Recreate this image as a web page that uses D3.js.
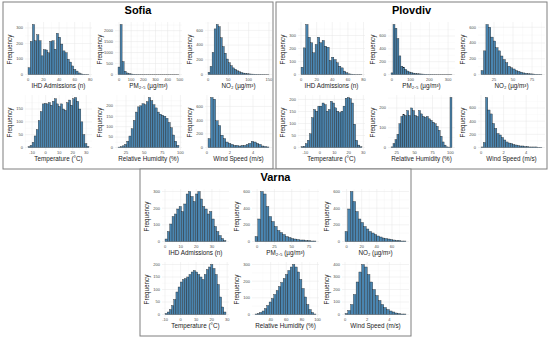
<!DOCTYPE html>
<html>
<head>
<meta charset="utf-8">
<script src="https://d3js.org/d3.v7.min.js"></script>
<style>
body { margin: 0; background: #fff; font-family: "Liberation Sans", Arial, sans-serif; }
.panel { fill: #fff; stroke: #7f7f7f; stroke-width: 1; }
.grid-major { stroke: #e6e6e6; stroke-width: 0.5; }
.grid-minor { stroke: #f2f2f2; stroke-width: 0.35; }
rect.bar { fill: #4a85b0; stroke: #1c1c1c; stroke-width: 0.35; }
.tick-label { fill: #4d4d4d; font-size: 4px; }
.axis-title { fill: #1a1a1a; font-size: 6.3px; }
.city { fill: #000; font-size: 11px; font-weight: bold; }
</style>
</head>
<body>
<div id="chart"></div>
<script>
// x axis titles, same order in every city panel
var variables = ["IHD Admissions (n)", "PM\u2082.\u2085 (\u00b5g/m\u00b3)", "NO\u2082 (\u00b5g/m\u00b3)",
                 "Temperature (\u00b0C)", "Relative Humidity (%)", "Wind Speed (m/s)"];

// ---- Sofia ----
var sofiaIhd  = [43, 213, 322, 217, 256, 217, 120, 160, 158, 140, 213, 217, 163, 265, 240, 196, 152, 140, 98, 80, 55, 33, 22, 10, 4, 2, 1, 1];
var sofiaPm25 = [340, 2280, 590, 150, 70, 40, 25, 15, 10, 8, 6, 5, 4, 3, 3, 2, 2, 2, 1, 1, 1, 1, 1, 1, 1, 1, 1, 1, 1, 1];
var sofiaNo2  = [30, 110, 300, 620, 680, 650, 500, 380, 290, 210, 160, 120, 90, 70, 50, 38, 28, 20, 15, 11, 8, 6, 5, 4, 3, 3, 2, 2, 1, 1];
var sofiaTemp = [3, 8, 20, 45, 70, 105, 140, 170, 172, 170, 175, 165, 180, 190, 170, 160, 170, 150, 145, 175, 185, 165, 190, 195, 180, 150, 100, 50, 15, 4];
var sofiaRh   = [2, 4, 8, 15, 30, 55, 90, 130, 170, 195, 200, 210, 205, 220, 240, 225, 205, 190, 170, 160, 155, 150, 140, 120, 95, 60, 30, 10];
var sofiaWind = [130, 730, 705, 390, 320, 180, 130, 80, 60, 45, 30, 30, 22, 30, 30, 45, 60, 90, 80, 60, 45, 22, 15, 8];
// bin start / bin width for the six variables
var sofiaBinStart = [0, -8, 0, -13, 14, 0.1];
var sofiaBinWidth = [2.8, 16.7, 5, 1.5, 3, 0.22];
var sofiaXTicks = [[0, 20, 40, 60, 80], [0, 100, 200, 300, 400, 500], [0, 50, 100, 150], [-10, 0, 10, 20, 30], [25, 50, 75, 100], [0, 2, 4, 6]];
var sofiaYTicks = [[0, 100, 200, 300], [0, 500, 1000, 1500, 2000], [0, 200, 400, 600], [0, 50, 100, 150], [0, 50, 100, 150, 200], [0, 200, 400, 600]];

// ---- Plovdiv ----
var plovdivIhd  = [56, 205, 385, 287, 244, 167, 231, 287, 244, 262, 218, 210, 108, 133, 115, 90, 64, 51, 26, 13, 5, 3, 2, 1, 1, 1];
var plovdivPm25 = [25, 780, 720, 560, 290, 130, 115, 80, 55, 40, 30, 22, 16, 12, 10, 8, 6, 5, 4, 3, 3, 2, 2, 1, 1, 1, 1, 1, 1, 1, 1];
var plovdivNo2  = [50, 300, 635, 600, 475, 425, 340, 300, 235, 190, 150, 105, 85, 70, 50, 40, 30, 20, 15, 10, 8, 6, 4, 3, 2];
var plovdivTemp = [3, 5, 16, 30, 57, 124, 158, 151, 172, 172, 185, 178, 151, 158, 192, 185, 165, 151, 145, 151, 172, 205, 208, 203, 185, 97, 30, 10, 3];
var plovdivRh   = [3, 20, 40, 67, 120, 157, 167, 162, 187, 162, 200, 187, 162, 157, 187, 170, 157, 153, 157, 145, 137, 128, 120, 107, 87, 57, 28, 12, 3, 2, 253];
var plovdivWind = [8, 76, 760, 570, 510, 365, 290, 213, 190, 152, 114, 84, 68, 61, 46, 38, 30, 23, 23, 15, 15, 8, 8, 8, 8, 4, 4];
var plovdivBinStart = [0, -5, 8, -13, 17, 0];
var plovdivBinWidth = [3, 10.5, 3.2, 1.45, 2.75, 0.2];
var plovdivXTicks = [[0, 20, 40, 60, 80], [0, 100, 200, 300], [0, 25, 50, 75], [-10, 0, 10, 20, 30], [25, 50, 75, 100], [0, 2, 4]];
var plovdivYTicks = [[0, 100, 200, 300], [0, 200, 400, 600], [0, 200, 400, 600], [0, 50, 100, 150, 200], [0, 100, 200], [0, 200, 400, 600]];

// ---- Varna ----
var varnaIhd  = [15, 60, 105, 150, 165, 195, 210, 180, 225, 285, 300, 270, 240, 285, 300, 255, 210, 195, 165, 180, 135, 90, 60, 36, 18, 6];
var varnaPm25 = [60, 270, 600, 570, 420, 300, 240, 180, 132, 108, 84, 60, 48, 36, 30, 24, 18, 18, 12, 12, 6, 6];
var varnaNo2  = [120, 390, 600, 480, 360, 270, 228, 180, 150, 120, 102, 84, 66, 54, 42, 36, 30, 24, 18, 12, 12, 6, 6];
var varnaTemp = [4, 10, 20, 36, 60, 90, 110, 130, 140, 144, 150, 160, 170, 176, 170, 160, 150, 140, 160, 180, 190, 200, 184, 160, 120, 70, 30, 10];
var varnaRh   = [3, 6, 12, 21, 36, 54, 75, 96, 120, 144, 168, 192, 216, 240, 264, 285, 300, 285, 255, 210, 156, 105, 60, 30, 12, 3];
var varnaWind = [8, 32, 80, 160, 260, 340, 400, 380, 320, 260, 200, 152, 112, 80, 56, 40, 28, 20, 12, 8, 4, 4];
var varnaBinStart = [0, -3, -2, -10, 20, 0];
var varnaBinWidth = [1.5, 4, 3.5, 1.4, 3, 0.25];
var varnaXTicks = [[0, 10, 20, 30], [0, 25, 50, 75], [0, 20, 40, 60], [-10, 0, 10, 20, 30], [40, 60, 80, 100], [0, 2, 4]];
var varnaYTicks = [[0, 100, 200, 300], [0, 200, 400, 600], [0, 200, 400, 600], [0, 50, 100, 150, 200], [0, 100, 200, 300], [0, 100, 200, 300, 400]];

function buildCity(counts, starts, widths, xTicks, yTicks) {
  return counts.map(function (c, i) {
    return { counts: c, start: starts[i], width: widths[i], xTicks: xTicks[i], yTicks: yTicks[i], label: variables[i] };
  });
}

var cities = [
  { name: "Sofia", x: 3, y: 2, w: 270, h: 167,
    hists: buildCity([sofiaIhd, sofiaPm25, sofiaNo2, sofiaTemp, sofiaRh, sofiaWind], sofiaBinStart, sofiaBinWidth, sofiaXTicks, sofiaYTicks) },
  { name: "Plovdiv", x: 276, y: 2, w: 271, h: 167,
    hists: buildCity([plovdivIhd, plovdivPm25, plovdivNo2, plovdivTemp, plovdivRh, plovdivWind], plovdivBinStart, plovdivBinWidth, plovdivXTicks, plovdivYTicks) },
  { name: "Varna", x: 140, y: 169, w: 271, h: 167,
    hists: buildCity([varnaIhd, varnaPm25, varnaNo2, varnaTemp, varnaRh, varnaWind], varnaBinStart, varnaBinWidth, varnaXTicks, varnaYTicks) }
];

var svg = d3.select("#chart").append("svg").attr("width", 550).attr("height", 337);

var plotW = 67, plotH = 55;

function drawHist(g, h, cx, cy) {
  var left = cx + 22, top = cy;
  var n = h.counts.length;
  var x0 = h.start, x1 = h.start + n * h.width;
  var pad = (x1 - x0) * 0.05;
  var xScale = d3.scaleLinear().domain([x0 - pad, x1 + pad]).range([left, left + plotW]);
  var yMax = d3.max(h.counts);
  var yScale = d3.scaleLinear().domain([-0.05 * yMax, 1.05 * yMax]).range([top + plotH, top]);

  var xd = xScale.domain(), yd = yScale.domain();
  var inX = function (v) { return v >= xd[0] && v <= xd[1]; };
  var inY = function (v) { return v >= yd[0] && v <= yd[1]; };

  // minor grid halfway between major ticks
  var xStep = h.xTicks[1] - h.xTicks[0], yStep = h.yTicks[1] - h.yTicks[0];
  var xMinor = d3.range(h.xTicks[0] - xStep / 2, xd[1], xStep).filter(inX);
  var yMinor = d3.range(h.yTicks[0] + yStep / 2, yd[1], yStep).filter(inY);
  var xMajor = h.xTicks.filter(inX), yMajor = h.yTicks.filter(inY);

  g.selectAll(null).data(xMinor).enter().append("line").attr("class", "grid-minor")
    .attr("x1", xScale).attr("x2", xScale).attr("y1", top).attr("y2", top + plotH);
  g.selectAll(null).data(yMinor).enter().append("line").attr("class", "grid-minor")
    .attr("x1", left).attr("x2", left + plotW).attr("y1", yScale).attr("y2", yScale);
  g.selectAll(null).data(xMajor).enter().append("line").attr("class", "grid-major")
    .attr("x1", xScale).attr("x2", xScale).attr("y1", top).attr("y2", top + plotH);
  g.selectAll(null).data(yMajor).enter().append("line").attr("class", "grid-major")
    .attr("x1", left).attr("x2", left + plotW).attr("y1", yScale).attr("y2", yScale);

  // bars
  g.selectAll(null).data(h.counts).enter().append("rect").attr("class", "bar")
    .attr("x", function (d, i) { return xScale(h.start + i * h.width); })
    .attr("width", xScale(h.start + h.width) - xScale(h.start))
    .attr("y", function (d) { return yScale(d); })
    .attr("height", function (d) { return yScale(0) - yScale(d); });

  // tick labels
  g.selectAll(null).data(xMajor).enter().append("text").attr("class", "tick-label")
    .attr("x", xScale).attr("y", top + plotH + 4.2).attr("text-anchor", "middle")
    .text(function (d) { return d; });
  g.selectAll(null).data(yMajor).enter().append("text").attr("class", "tick-label")
    .attr("x", left - 2).attr("y", yScale).attr("dy", "0.35em").attr("text-anchor", "end")
    .text(function (d) { return d; });

  // axis titles
  g.append("text").attr("class", "axis-title")
    .attr("x", left + plotW / 2).attr("y", top + plotH + 10.5).attr("text-anchor", "middle")
    .text(h.label);
  g.append("text").attr("class", "axis-title")
    .attr("transform", "translate(" + (cx + 9) + "," + (top + plotH / 2) + ") rotate(-90)")
    .attr("text-anchor", "middle")
    .text("Frequency");
}

cities.forEach(function (c) {
  var g = svg.append("g");
  g.append("rect").attr("class", "panel").attr("x", c.x).attr("y", c.y).attr("width", c.w).attr("height", c.h);
  g.append("text").attr("class", "city").attr("x", c.x + c.w / 2).attr("y", c.y + 12)
    .attr("text-anchor", "middle").text(c.name);
  c.hists.forEach(function (h, i) {
    var col = i % 3, row = Math.floor(i / 3);
    drawHist(g, h, c.x + col * 90, c.y + 20 + row * 73);
  });
});
</script>
</body>
</html>
